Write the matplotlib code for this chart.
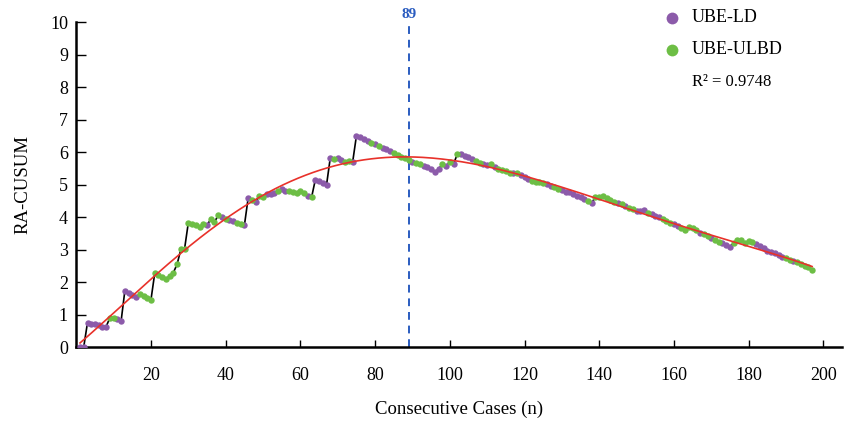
import numpy as np
import matplotlib
matplotlib.use("Agg")
import matplotlib.pyplot as plt
from matplotlib.lines import Line2D

plt.rcParams['font.family'] = ['Liberation Serif', 'DejaVu Serif']

# ---- data ----
cases = list(range(1, 198))
cusum = [
    0.00, 0.02, 0.76, 0.72, 0.73, 0.68, 0.61, 0.64, 0.91, 0.89,   # 1-10
    0.86, 0.81, 1.74, 1.68, 1.61, 1.55, 1.64, 1.58, 1.52, 1.47,   # 11-20
    2.28, 2.21, 2.15, 2.11, 2.19, 2.30, 2.56, 3.02, 3.04, 3.84,   # 21-30
    3.79, 3.75, 3.69, 3.79, 3.76, 3.94, 3.85, 4.07, 4.00, 3.96,   # 31-40
    3.92, 3.88, 3.84, 3.80, 3.75, 4.58, 4.53, 4.46, 4.66, 4.62,   # 41-50
    4.72, 4.72, 4.76, 4.81, 4.88, 4.82, 4.81, 4.78, 4.76, 4.80,   # 51-60
    4.74, 4.66, 4.62, 5.16, 5.11, 5.07, 5.00, 5.83, 5.78, 5.82,   # 61-70
    5.77, 5.71, 5.74, 5.71, 6.51, 6.46, 6.41, 6.35, 6.29, 6.25,   # 71-80
    6.19, 6.13, 6.09, 6.05, 5.99, 5.93, 5.87, 5.82, 5.76, 5.71,   # 81-90
    5.66, 5.63, 5.58, 5.54, 5.48, 5.40, 5.48, 5.64, 5.58, 5.69,   # 91-100
    5.64, 5.94, 5.95, 5.89, 5.84, 5.79, 5.73, 5.68, 5.64, 5.60,   # 101-110
    5.63, 5.56, 5.50, 5.45, 5.41, 5.37, 5.35, 5.37, 5.30, 5.25,   # 111-120
    5.18, 5.13, 5.09, 5.08, 5.05, 5.02, 4.97, 4.92, 4.87, 4.84,   # 121-130
    4.79, 4.77, 4.73, 4.67, 4.61, 4.55, 4.49, 4.45, 4.62, 4.63,   # 131-140
    4.67, 4.58, 4.53, 4.48, 4.45, 4.41, 4.35, 4.28, 4.25, 4.18,   # 141-150
    4.18, 4.22, 4.14, 4.10, 4.04, 4.02, 3.94, 3.89, 3.84, 3.80,   # 151-160
    3.73, 3.68, 3.61, 3.71, 3.66, 3.60, 3.53, 3.48, 3.44, 3.35,   # 161-170
    3.30, 3.25, 3.20, 3.15, 3.10, 3.20, 3.30, 3.30, 3.22, 3.26,   # 171-180
    3.23, 3.17, 3.12, 3.05, 2.97, 2.94, 2.89, 2.84, 2.79, 2.76,   # 181-190
    2.69, 2.65, 2.61, 2.55, 2.51, 2.47, 2.38,                     # 191-197
]
groups = (
    "PPPPPPPPGG" "PPPPPPGGGG" "GGGGGGGGGG" "GGGGPGGGPG"
    "PPGGPPGPGG" "PPPGPPGGGG" "GPGPPPPPGP" "PGGPPPPPGP"
    "GPPPGGGGGP" "GGPPPPPGPG" "PGPPPPGGPP" "GPGGGGPGPP"
    "PGGGGPPGGP" "PPPPPPGPGG" "GGGGPGPGGP" "PPGPPPGGGP"
    "PGGGGGPGGP" "GGPPPGGGGG" "GPPPPPPPPG" "GPGGGGG"
)
# trend curve, values
trend_n = [1, 9, 16, 22, 28, 36, 40, 45, 54, 62, 68, 76, 86, 91, 102,
           130, 135, 162, 179, 197]
trend_v = [0.17, 0.89, 1.64, 2.33, 2.94, 3.69, 3.95, 4.38, 4.84, 5.27,
           5.51, 5.74, 5.89, 5.90, 5.78, 4.86, 4.74, 3.75, 3.15, 2.48]
changepoint = 89
r2_text = "R\u00b2 = 0.9748"
labels = {"P": "UBE-LD", "G": "UBE-ULBD"}
colors = {"P": "#8C5BAA", "G": "#6DBE45"}

x = np.array(cases)
y = np.array(cusum)
g = np.array(list(groups))

fig = plt.figure(figsize=(8.46, 4.23), dpi=100)
ax = fig.add_axes([76.3 / 846, 1 - 347.3 / 423, (842 - 76.3) / 846, (347.3 - 22.3) / 423])

ax.plot(x, y, color="black", lw=1.2, zorder=2)
for k in ("P", "G"):
    m = g == k
    ax.plot(x[m], y[m], "o", ms=4.6, mew=0, color=colors[k], zorder=3)

# smooth trend through the read values
coef = np.polyfit(trend_n, trend_v, 5)
xf = np.linspace(trend_n[0], trend_n[-1], 300)
ax.plot(xf, np.polyval(coef, xf), color="#E8312A", lw=1.2, zorder=4)

# change point
ax.plot([changepoint, changepoint], [0, 9.95], color="#2A5CC0", lw=1.4,
        ls=(0, (4, 3)), zorder=1)
ax.text(changepoint, 10.12, str(changepoint), color="#2A5CC0", fontsize=11,
        fontweight="bold", ha="center", va="baseline", clip_on=False)

ax.set_xlim(0, 205)
ax.set_ylim(0, 10)
ax.set_xticks(range(20, 201, 20))
ax.set_yticks(range(0, 11))
for s in ("top", "right"):
    ax.spines[s].set_visible(False)
for s in ("left", "bottom"):
    ax.spines[s].set_linewidth(1.8)
ax.tick_params(axis="x", direction="in", length=5, width=1, pad=14, labelsize=13)
ax.tick_params(axis="y", direction="in", length=7, width=1, pad=6, labelsize=13)
ax.set_xlabel("Consecutive Cases (n)", fontsize=13.5, labelpad=12)
ax.set_ylabel("RA-CUSUM", fontsize=13.5, labelpad=13)

# legend
for i, k in enumerate(("P", "G")):
    yy = 1 - (18 + 32 * i) / 423
    fig.add_artist(Line2D([672 / 846], [yy], marker="o", ms=8.5, mew=0,
                          color=colors[k], transform=fig.transFigure))
    fig.text(692 / 846, yy, labels[k], fontsize=13, va="center", ha="left")
fig.text(692 / 846, 1 - 82 / 423, r2_text, fontsize=12, va="center", ha="left")

fig.savefig("out.png", dpi=100)
